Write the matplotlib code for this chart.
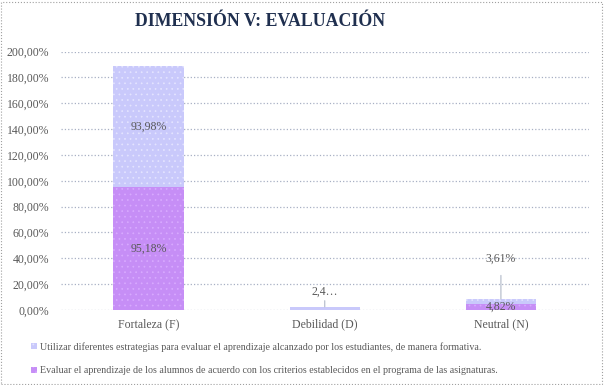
import numpy as np
import matplotlib as mpl
mpl.use('Agg')
from matplotlib import pyplot as plt
from matplotlib.patches import Rectangle

categories  = ['Fortaleza (F)', 'Debilidad (D)', 'Neutral (N)']
evaluar     = [95.18, 0.0, 4.82]     # bottom series
utilizar    = [93.98, 2.41, 3.61]    # top series
serie_names = ['Utilizar diferentes estrategias para evaluar el aprendizaje alcanzado por los estudiantes, de manera formativa.',
               'Evaluar el aprendizaje de los alumnos de acuerdo con los criterios establecidos en el programa de las asignaturas.']
yticks      = np.arange(0, 201, 20)

mpl.rcParams['font.family'] = ['Liberation Serif', 'DejaVu Serif']
mpl.rcParams['hatch.linewidth'] = 0.5

c_util  = '#c9c9fb'
c_eval  = '#c68ef6'
txt_col = '#595959'

fig = plt.figure(figsize=(6.04, 3.85), dpi=100)
ax  = fig.add_axes([60.5/604, 1-310/385, 528.5/604, 258.5/385])

x = np.arange(len(categories))
b1 = ax.bar(x, evaluar, width=0.40, color=c_eval, hatch='...', edgecolor='#d8aaff', lw=0, zorder=2)
b2 = ax.bar(x, utilizar, width=0.40, bottom=evaluar, color=c_util, hatch='...', edgecolor='#e4e4ff', lw=0, zorder=2)

ax.set_xlim(-0.5, 2.5)
ax.set_ylim(0, 200)
ax.set_yticks(yticks)
ax.set_yticklabels(['{:.2f}%'.format(v).replace('.', ',') for v in yticks])
ax.set_xticks(x)
ax.set_xticklabels(categories)
ax.tick_params(length=0, labelsize=8.5, colors=txt_col, pad=6)
ax.tick_params(axis='y', pad=8)
for s in ax.spines.values():
    s.set_visible(False)
ax.grid(axis='y', ls=':', color='#a8b0c4', lw=0.9, zorder=0)
ax.set_axisbelow(True)

def fmt(v):
    return '{:.2f}%'.format(v).replace('.', ',')

# labels inside Fortaleza
ax.text(0, evaluar[0]/2, fmt(evaluar[0]), ha='center', va='center', fontsize=8.5, color=txt_col, zorder=3)
ax.text(0, evaluar[0]+utilizar[0]/2, fmt(utilizar[0]), ha='center', va='center', fontsize=8.5, color=txt_col, zorder=3)
# Debilidad label with leader
ax.annotate('2,4…', xy=(1, evaluar[1]+utilizar[1]), xytext=(1, 14), ha='center', va='center',
            fontsize=8.5, color=txt_col, arrowprops=dict(arrowstyle='-', color='#b0b8c8', lw=0.8, shrinkA=6, shrinkB=0))
# Neutral labels
ax.text(2, evaluar[2]/2, fmt(evaluar[2]), ha='center', va='center', fontsize=8.5, color=txt_col, zorder=3)
ax.annotate(fmt(utilizar[2]), xy=(2, evaluar[2]+utilizar[2]), xytext=(2, 40), ha='center', va='center',
            fontsize=8.5, color=txt_col, arrowprops=dict(arrowstyle='-', color='#b0b8c8', lw=0.8, shrinkA=6, shrinkB=0))

fig.text(260/604, 1-21/385, 'DIMENSIÓN V: EVALUACIÓN', ha='center', va='center',
         fontsize=12.8, fontweight='bold', color='#1f2f4f')

fig.legend([b2, b1], serie_names, loc='upper left', bbox_to_anchor=(31/604, 1-342/385),
           frameon=False, fontsize=7.2, labelcolor=txt_col, handlelength=0.6, handleheight=0.6,
           handletextpad=0.35, labelspacing=1.45, borderaxespad=0, borderpad=0)

fig.patches.append(Rectangle((0.002, 0.003), 0.995, 0.993, transform=fig.transFigure, fill=False,
                             ls=':', lw=0.8, ec='#a0a0a0'))

fig.savefig('out.png', dpi=100)
